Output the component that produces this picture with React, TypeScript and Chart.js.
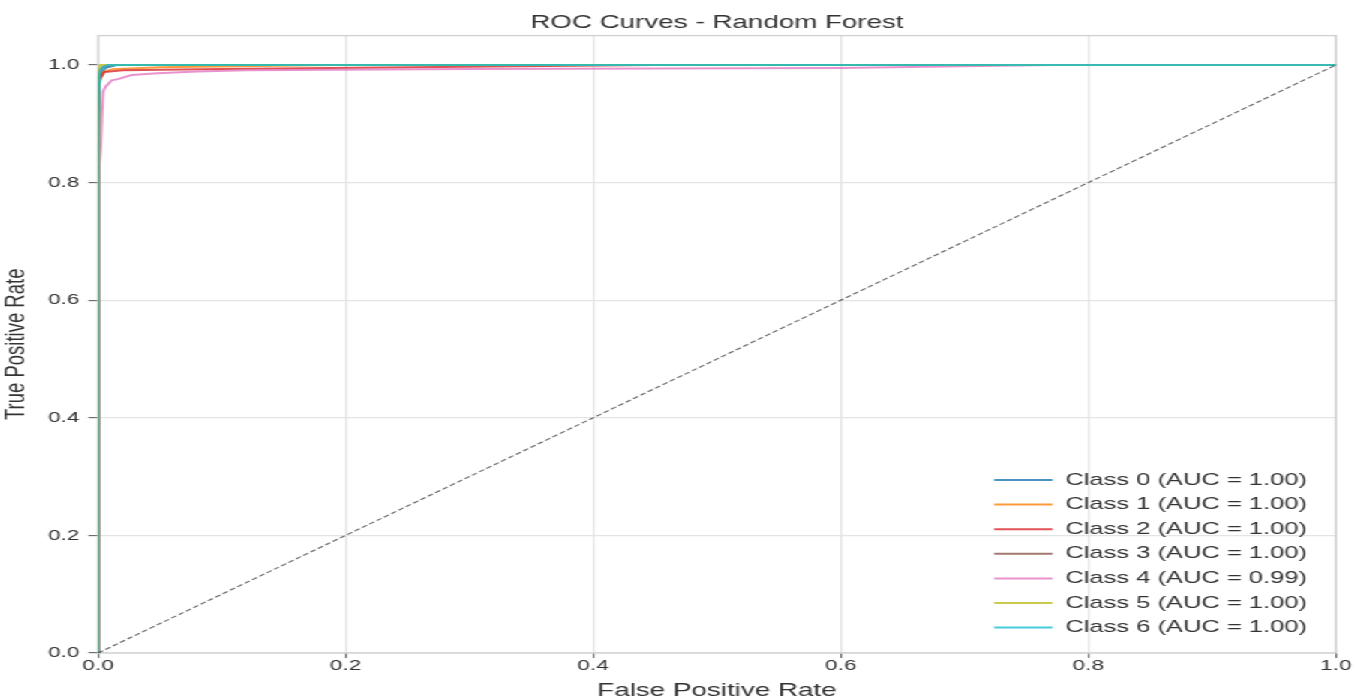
import React, { useEffect, useRef } from 'react';
import { Chart, registerables } from 'chart.js';

Chart.register(...registerables);

// ---------- data ----------
const classLabels = [
  'Class 0 (AUC = 1.00)',
  'Class 1 (AUC = 1.00)',
  'Class 2 (AUC = 1.00)',
  'Class 3 (AUC = 1.00)',
  'Class 4 (AUC = 0.99)',
  'Class 5 (AUC = 1.00)',
  'Class 6 (AUC = 1.00)',
];

const classColors = ['#1f77b4', '#ff7f0e', '#d62728', '#8c564b', '#e377c2', '#bcbd22', '#17becf'];

const fpr0 = [0, 0, 0.0005, 0.002, 0.006, 0.015, 1];
const tpr0 = [0, 0.88, 0.96, 0.985, 0.995, 1, 1];

const fpr1 = [0, 0, 0.001, 0.004, 0.012, 0.05, 0.19, 1];
const tpr1 = [0, 0.93, 0.975, 0.988, 0.993, 0.996, 1, 1];

const fpr2 = [0, 0, 0.001, 0.005, 0.02, 0.1, 0.45, 1];
const tpr2 = [0, 0.9, 0.975, 0.988, 0.991, 0.993, 1, 1];

const fpr3 = [0, 0, 0.001, 0.004, 0.01, 1];
const tpr3 = [0, 0.95, 0.99, 0.997, 1, 1];

const fpr4 = [0, 0.0008, 0.002, 0.003, 0.004, 0.006, 0.011, 0.016, 0.027, 0.048, 0.08, 0.12, 0.3, 0.6, 0.77, 1];
const tpr4 = [0, 0.83, 0.86, 0.915, 0.955, 0.963, 0.974, 0.976, 0.983, 0.986, 0.989, 0.991, 0.993, 0.995, 1, 1];

const fpr5 = [0, 0, 0.0005, 0.002, 1];
const tpr5 = [0, 0.97, 0.995, 1, 1];

const fpr6 = [0, 0, 0.001, 0.003, 0.008, 1];
const tpr6 = [0, 0.9, 0.985, 0.995, 1, 1];

const diagFpr = [0, 1];
const diagTpr = [0, 1];

const xTicks = [0, 0.2, 0.4, 0.6, 0.8, 1.0];
const yTicks = [0, 0.2, 0.4, 0.6, 0.8, 1.0];

const titleText = 'ROC Curves - Random Forest';
const xTitle = 'False Positive Rate';
const yTitle = 'True Positive Rate';

const fprs = [fpr0, fpr1, fpr2, fpr3, fpr4, fpr5, fpr6];
const tprs = [tpr0, tpr1, tpr2, tpr3, tpr4, tpr5, tpr6];

// ---------- layout ----------
const CW = 903;
const CH = 700;
const SX = 1355 / CW;
const FONT = '"Liberation Sans", Arial, Helvetica, sans-serif';
const TEXT = '#333333';

function withAlpha(hex: string, a: number) {
  const r = parseInt(hex.slice(1, 3), 16);
  const g = parseInt(hex.slice(3, 5), 16);
  const b = parseInt(hex.slice(5, 7), 16);
  return `rgba(${r},${g},${b},${a})`;
}

const framePlugin = {
  id: 'frame',
  beforeDatasetsDraw(chart: any) {
    const { ctx, chartArea: ca } = chart;
    ctx.save();
    ctx.strokeStyle = '#cfcfcf';
    ctx.lineWidth = 1.3;
    ctx.strokeRect(ca.left, ca.top, ca.right - ca.left, ca.bottom - ca.top);
    ctx.restore();
  },
};

const legendPlacer = {
  id: 'legendPlacer',
  beforeDraw(chart: any) {
    const lg = chart.legend;
    const ca = chart.chartArea;
    if (!lg) return;
    lg.left = ca.right - 235.4;
    lg.right = ca.right;
    lg.top = ca.bottom - 189.1;
    lg.bottom = ca.bottom;
    lg.width = lg.right - lg.left;
    lg.height = lg.bottom - lg.top;
  },
};

export default function App() {
  const ref = useRef<HTMLCanvasElement | null>(null);

  useEffect(() => {
    if (!ref.current) return;
    const datasets: any[] = classLabels.map((label, i) => ({
      label,
      data: fprs[i].map((x, j) => ({ x, y: tprs[i][j] })),
      borderColor: withAlpha(classColors[i], 0.8),
      backgroundColor: withAlpha(classColors[i], 0.8),
      borderWidth: 2,
      pointRadius: 0,
      tension: 0,
      fill: false,
      order: classLabels.length - i,
    }));
    datasets.push({
      label: 'diag',
      data: diagFpr.map((x, j) => ({ x, y: diagTpr[j] })),
      borderColor: 'rgba(0,0,0,0.6)',
      backgroundColor: 'rgba(0,0,0,0.6)',
      borderWidth: 1.1,
      borderDash: [4, 2],
      pointRadius: 0,
      fill: false,
      order: -1,
    });

    const chart = new Chart(ref.current, {
      type: 'line',
      data: { datasets },
      plugins: [framePlugin, legendPlacer],
      options: {
        responsive: false,
        animation: false,
        devicePixelRatio: 1,
        events: [],
        layout: { padding: { left: 0, right: 12.7, top: 0, bottom: 0 } },
        plugins: {
          tooltip: { enabled: false },
          title: {
            display: true,
            fullSize: false,
            text: titleText,
            color: TEXT,
            font: { family: FONT, size: 18.5, weight: 'normal', lineHeight: 1.2 },
            padding: { top: 12.2, bottom: 1.2 },
          },
          legend: {
            display: true,
            position: 'chartArea',
            align: 'start',
            labels: {
              usePointStyle: true,
              pointStyle: 'line',
              pointStyleWidth: 39,
              padding: 7.6,
              color: TEXT,
              font: { family: FONT, size: 17 },
              filter: (item: any) => item.datasetIndex < classLabels.length,
              sort: (a: any, b: any) => a.datasetIndex - b.datasetIndex,
            },
          },
        },
        scales: {
          x: {
            type: 'linear',
            min: 0,
            max: 1,
            afterBuildTicks: (s: any) => {
              s.ticks = xTicks.map((v) => ({ value: v }));
            },
            afterFit: (s: any) => {
              s.height = 47;
            },
            ticks: {
              color: TEXT,
              font: { family: FONT, size: 15, lineHeight: 1 },
              padding: 0,
              maxRotation: 0,
              autoSkip: false,
              callback: (v: any) => Number(v).toFixed(1),
            },
            grid: { color: '#e4e4e4', lineWidth: 1.3, tickColor: '#555555', tickLength: 5, tickWidth: 1 },
            border: { display: false },
            title: {
              display: true,
              text: xTitle,
              color: TEXT,
              font: { family: FONT, size: 18.5, lineHeight: 1 },
              padding: { top: 0, bottom: 0 },
            },
          },
          y: {
            type: 'linear',
            min: 0,
            max: 1.05,
            afterBuildTicks: (s: any) => {
              s.ticks = yTicks.map((v) => ({ value: v }));
            },
            afterFit: (s: any) => {
              s.width = 65.3;
            },
            ticks: {
              color: TEXT,
              font: { family: FONT, size: 15, lineHeight: 1 },
              padding: 6,
              autoSkip: false,
              callback: (v: any) => Number(v).toFixed(1),
            },
            grid: { color: '#e4e4e4', lineWidth: 1.3, tickColor: '#555555', tickLength: 6.5, tickWidth: 1 },
            border: { display: false },
            title: {
              display: true,
              text: yTitle,
              color: TEXT,
              font: { family: FONT, size: 18.5, lineHeight: 1 },
              padding: { top: 1.6, bottom: 0 },
            },
          },
        },
      } as any,
    });
    return () => chart.destroy();
  }, []);

  return (
    <div
      style={{
        position: 'fixed',
        left: 0,
        top: 0,
        width: CW,
        height: CH,
        transform: `scaleX(${SX})`,
        transformOrigin: '0 0',
        background: '#ffffff',
      }}
    >
      <canvas ref={ref} width={CW} height={CH} style={{ display: 'block', width: CW, height: CH }} />
    </div>
  );
}
